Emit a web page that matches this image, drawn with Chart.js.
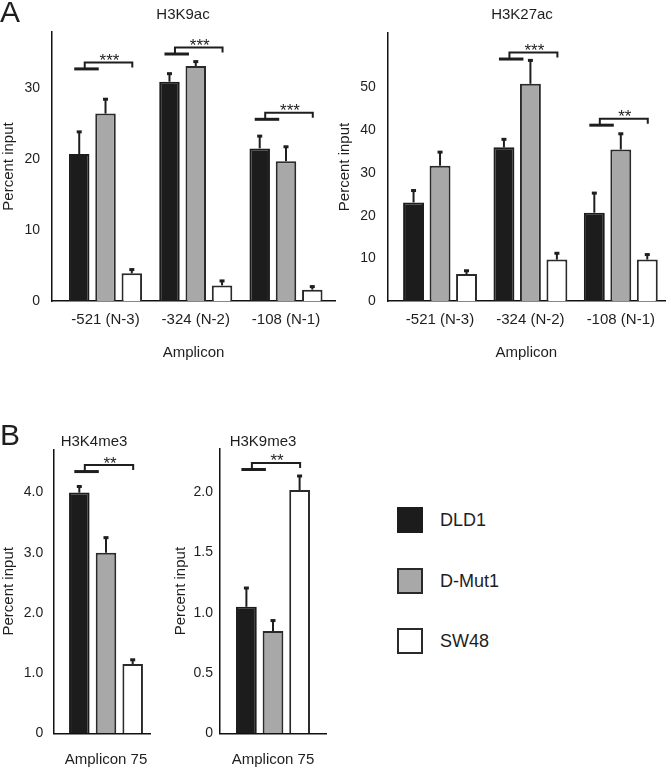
<!DOCTYPE html>
<html>
<head>
<meta charset="utf-8">
<script src="https://cdn.jsdelivr.net/npm/chart.js@4.4.1/dist/chart.umd.min.js"></script>
<style>
  body { margin: 0; background: #fff; width: 671px; height: 769px; overflow: hidden; position: relative;
         font-family: 'Liberation Sans', Arial, sans-serif; color: #1e1e1e; }
  canvas { position: absolute; }
  .panel { position: absolute; left: 0; font-size: 30px; line-height: 30px; }
  .leg { position: absolute; left: 397px; height: 26px; display: flex; align-items: center; font-size: 18px; }
  .sw { width: 26px; height: 26px; box-sizing: border-box; border: 2px solid #2a2a2a; margin-right: 17px; }
</style>
</head>
<body>
<canvas id="k9ac" width="336" height="372" style="left:0;top:0"></canvas>
<canvas id="k27ac" width="335" height="372" style="left:336px;top:0"></canvas>
<canvas id="k4me3" width="160" height="369" style="left:0;top:400px"></canvas>
<canvas id="k9me3" width="164" height="369" style="left:172px;top:400px"></canvas>
<div class="panel" style="top:-3px">A</div>
<div class="panel" style="top:420px">B</div>
<div id="legend"></div>
<script>
// cell lines
var series = ['DLD1', 'D-Mut1', 'SW48']
var fills = ['#1c1c1c', '#a8a8a8', '#ffffff']
var edges = ['#1c1c1c', '#2a2a2a', '#2a2a2a']

var amplicons = ['-521 (N-3)', '-324 (N-2)', '-108 (N-1)']
var amplicon75 = ['Amplicon 75']

// H3K9ac
var k9acDLD1 = [20.7, 30.9, 21.5]
var k9acMut1 = [26.4, 33.1, 19.7]
var k9acSW48 = [3.9, 2.2, 1.6]
var k9acErrDLD1 = [3.2, 1.2, 1.8]
var k9acErrMut1 = [2.1, 0.7, 2.1]
var k9acErrSW48 = [0.6, 0.7, 0.5]
var k9acTicks = [0, 10, 20, 30]
var k9acTickLabels = ['0', '10', '20', '30']
var k9acSigAt = [0, 1, 2]
var k9acSigY = [32.7, 34.8, 25.6]
var k9acSigText = ['***', '***', '***']

// H3K27ac
var k27acDLD1 = [23.1, 36.0, 20.7]
var k27acMut1 = [31.7, 50.9, 35.5]
var k27acSW48 = [6.3, 9.7, 9.7]
var k27acErrDLD1 = [2.9, 2.0, 4.7]
var k27acErrMut1 = [3.3, 5.6, 3.8]
var k27acErrSW48 = [0.9, 1.6, 1.3]
var k27acTicks = [0, 10, 20, 30, 40, 50]
var k27acTickLabels = ['0', '10', '20', '30', '40', '50']
var k27acSigAt = [1, 2]
var k27acSigY = [56.7, 41.2]
var k27acSigText = ['***', '**']

// H3K4me3
var k4me3DLD1 = [4.0]
var k4me3Mut1 = [3.0]
var k4me3SW48 = [1.15]
var k4me3ErrDLD1 = [0.11]
var k4me3ErrMut1 = [0.26]
var k4me3ErrSW48 = [0.08]
var k4me3Ticks = [0, 1, 2, 3, 4]
var k4me3TickLabels = ['0', '1.0', '2.0', '3.0', '4.0']
var k4me3SigAt = [0]
var k4me3SigY = [4.35]
var k4me3SigText = ['**']

// H3K9me3
var k9me3DLD1 = [1.05]
var k9me3Mut1 = [0.85]
var k9me3SW48 = [2.02]
var k9me3ErrDLD1 = [0.16]
var k9me3ErrMut1 = [0.09]
var k9me3ErrSW48 = [0.12]
var k9me3Ticks = [0, 0.5, 1, 1.5, 2]
var k9me3TickLabels = ['0', '0.5', '1.0', '1.5', '2.0']
var k9me3SigAt = [0]
var k9me3SigY = [2.19]
var k9me3SigText = ['**']

var ink = '#1e1e1e'
var FONT = "'Liberation Sans', Arial, sans-serif"
Chart.defaults.font.family = FONT
Chart.defaults.color = ink

function makeChart(id, cfg) {
	// error bars, significance brackets and the chart heading
	var marks = {
		id: 'marks',
		afterDatasetsDraw(chart) {
			var ctx = chart.ctx, ys = chart.scales.y
			var bars = s => chart.getDatasetMeta(s).data
			ctx.save()
			ctx.strokeStyle = ink
			ctx.fillStyle = ink
			cfg.values.forEach((vals, s) => {
				bars(s).forEach((bar, i) => {
					var top = ys.getPixelForValue(vals[i] + cfg.errors[s][i])
					ctx.lineWidth = 2
					ctx.beginPath()
					ctx.moveTo(bar.x, bar.y)
					ctx.lineTo(bar.x, top)
					ctx.stroke()
					ctx.fillRect(bar.x - 2.5, top - 1, 5, 3)
				})
			})
			cfg.sigAt.forEach((c, k) => {
				var bx = bars(0)[c].x, wx = bars(2)[c].x
				var yLo = ys.getPixelForValue(cfg.sigY[k])
				var yHi = yLo - 6.5
				var x0 = bx - 5, x1 = bx + 19.5, xv = x0 + 10.5, xe = wx + 0.5
				ctx.lineWidth = 3
				ctx.beginPath()
				ctx.moveTo(x0, yLo)
				ctx.lineTo(x1, yLo)
				ctx.stroke()
				ctx.lineWidth = 2
				ctx.beginPath()
				ctx.moveTo(xv, yLo)
				ctx.lineTo(xv, yHi)
				ctx.lineTo(xe, yHi)
				ctx.lineTo(xe, yHi + 5)
				ctx.stroke()
				ctx.font = '17px ' + FONT
				ctx.textAlign = 'center'
				ctx.textBaseline = 'alphabetic'
				ctx.fillText(cfg.sigText[k], (xv + xe) / 2 + 1, yHi + 3.5)
			})
			ctx.font = '15px ' + FONT
			ctx.textAlign = 'center'
			ctx.textBaseline = 'middle'
			ctx.fillText(cfg.title, cfg.titleX, cfg.titleY)
			ctx.restore()
		}
	}

	return new Chart(document.getElementById(id), {
		type: 'bar',
		data: {
			datasets: series.map((name, s) => ({
				label: name,
				data: cfg.values[s].map((v, i) => ({x: i, y: v})),
				backgroundColor: fills[s],
				borderColor: edges[s],
				borderWidth: 2,
				categoryPercentage: cfg.catPct,
				barPercentage: cfg.barPct
			}))
		},
		options: {
			responsive: false,
			animation: false,
			layout: {padding: {top: cfg.top, right: cfg.right, left: 0, bottom: 0}},
			plugins: {legend: {display: false}, tooltip: {enabled: false}},
			scales: {
				x: {
					type: 'linear',
					min: cfg.xMin,
					max: cfg.xMax,
					offset: false,
					bounds: 'data',
					grid: {display: false, drawTicks: false, offset: false},
					border: {display: true, color: '#111', width: 1.5},
					afterBuildTicks: sc => { sc.ticks = cfg.labels.map((l, i) => ({value: i})) },
					afterFit: sc => { sc.height = cfg.xHeight; sc.paddingLeft = 0; sc.paddingRight = 0 },
					ticks: {
						padding: cfg.xPad,
						maxRotation: 0,
						autoSkip: false,
						font: {size: 15},
						callback: (v, i) => cfg.labels[i]
					},
					title: {
						display: !!cfg.xTitle,
						text: cfg.xTitle || '',
						font: {size: 15},
						padding: {top: 0, bottom: 10}
					}
				},
				y: {
					min: 0,
					max: cfg.yMax,
					grid: {display: false, drawTicks: false},
					border: {display: true, color: '#111', width: 1.5},
					afterBuildTicks: sc => { sc.ticks = cfg.yTicks.map(v => ({value: v})) },
					afterFit: sc => { sc.width = cfg.yWidth; sc.paddingTop = 0; sc.paddingBottom = 0 },
					ticks: {
						padding: cfg.yPad,
						autoSkip: false,
						font: {size: 14},
						callback: (v, i) => cfg.yLabels[i]
					},
					title: {display: true, text: 'Percent input', font: {size: 15}, padding: 0}
				}
			}
		},
		plugins: [marks]
	})
}

makeChart('k9ac', {
	title: 'H3K9ac', titleX: 183, titleY: 15,
	values: [k9acDLD1, k9acMut1, k9acSW48],
	errors: [k9acErrDLD1, k9acErrMut1, k9acErrSW48],
	labels: amplicons, xTitle: 'Amplicon',
	yTicks: k9acTicks, yLabels: k9acTickLabels, yMax: 37.9,
	sigAt: k9acSigAt, sigY: k9acSigY, sigText: k9acSigText,
	xMin: -0.593, xMax: 2.543, catPct: 0.874, barPct: 0.78,
	top: 32, right: 1, yWidth: 52, xHeight: 71, xPad: 10, yPad: 12
})

makeChart('k27ac', {
	title: 'H3K27ac', titleX: 186, titleY: 15,
	values: [k27acDLD1, k27acMut1, k27acSW48],
	errors: [k27acErrDLD1, k27acErrMut1, k27acErrSW48],
	labels: amplicons, xTitle: 'Amplicon',
	yTicks: k27acTicks, yLabels: k27acTickLabels, yMax: 62.8,
	sigAt: k27acSigAt, sigY: k27acSigY, sigText: k27acSigText,
	xMin: -0.579, xMax: 2.489, catPct: 0.879, barPct: 0.79,
	top: 33, right: 6, yWidth: 51.7, xHeight: 71, xPad: 10, yPad: 12
})

makeChart('k4me3', {
	title: 'H3K4me3', titleX: 94, titleY: 41.7,
	values: [k4me3DLD1, k4me3Mut1, k4me3SW48],
	errors: [k4me3ErrDLD1, k4me3ErrMut1, k4me3ErrSW48],
	labels: amplicon75,
	yTicks: k4me3Ticks, yLabels: k4me3TickLabels, yMax: 4.72,
	sigAt: k4me3SigAt, sigY: k4me3SigY, sigText: k4me3SigText,
	xMin: -0.527, xMax: 0.44, catPct: 0.828, barPct: 0.77,
	top: 49.3, right: 10, yWidth: 53.3, xHeight: 35.7, xPad: 17.7, yPad: 10
})

makeChart('k9me3', {
	title: 'H3K9me3', titleX: 91, titleY: 41.7,
	values: [k9me3DLD1, k9me3Mut1, k9me3SW48],
	errors: [k9me3ErrDLD1, k9me3ErrMut1, k9me3ErrSW48],
	labels: amplicon75,
	yTicks: k9me3Ticks, yLabels: k9me3TickLabels, yMax: 2.36,
	sigAt: k9me3SigAt, sigY: k9me3SigY, sigText: k9me3SigText,
	xMin: -0.53, xMax: 0.53, catPct: 0.753, barPct: 0.78,
	top: 49, right: 10, yWidth: 48, xHeight: 35.7, xPad: 17.7, yPad: 7
})

// legend
var legendTops = [507, 568, 628]
document.getElementById('legend').innerHTML = series.map((name, s) =>
	'<div class="leg" style="top:' + legendTops[s] + 'px"><div class="sw" style="background:' + fills[s] +
	';border-color:' + edges[s] + '"></div>' + name + '</div>'
).join('')
</script>
</body>
</html>
